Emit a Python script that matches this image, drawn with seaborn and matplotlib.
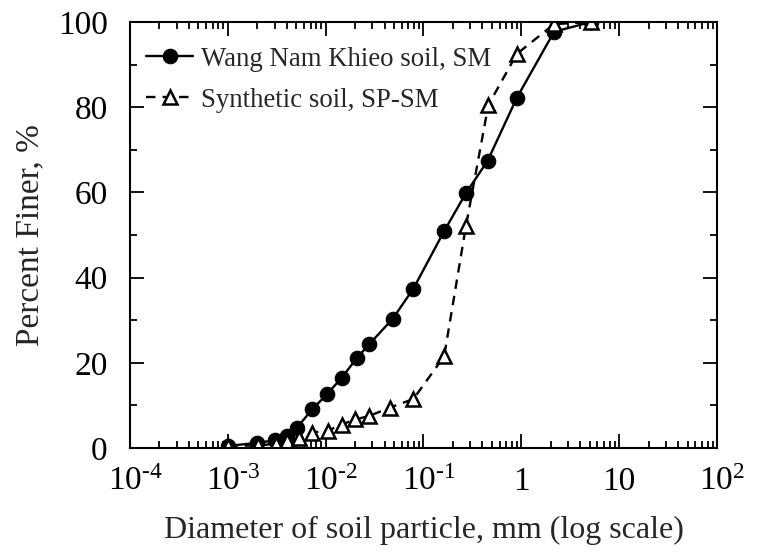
import matplotlib
matplotlib.use("Agg")
import matplotlib.pyplot as plt
import matplotlib.transforms as mtransforms
import seaborn as sns
import pandas as pd
import numpy as np
from matplotlib.ticker import LogLocator, MultipleLocator, NullFormatter

# Data
sm_diam = [0.00101, 0.0020, 0.0030, 0.0040, 0.0051, 0.0073, 0.0103, 0.0146, 0.0208,
           0.028, 0.0483, 0.0788, 0.1625, 0.271, 0.452, 0.899, 2.16, 5.14]
sm_finer = [0.5, 1.2, 1.8, 2.8, 4.8, 9.1, 12.6, 16.5, 21.1,
            24.4, 30.3, 37.4, 50.9, 59.8, 67.4, 82.2, 97.7, 100.0]

spsm_diam = [0.00101, 0.00205, 0.00311, 0.0040, 0.0054, 0.0072, 0.0106, 0.0146, 0.0199,
             0.0278, 0.0455, 0.0788, 0.1625, 0.272, 0.46, 0.899, 2.16, 5.14]
spsm_finer = [0.5, 0.6, 1.0, 1.6, 2.3, 3.6, 4.1, 5.5, 6.7,
              7.5, 9.5, 11.5, 21.5, 52.2, 80.5, 92.5, 99.5, 100.0]

series_names = ["Wang Nam Khieo soil, SM", "Synthetic soil, SP-SM"]
xtick_vals = [1e-4, 1e-3, 1e-2, 1e-1, 1, 10, 100]
xtick_labels = [r"$10^{\text{-}4}$", r"$10^{\text{-}3}$", r"$10^{\text{-}2}$",
                r"$10^{\text{-}1}$", "1", "10", r"$10^{2}$"]
ytick_vals = [0, 20, 40, 60, 80, 100]

sns.set_theme(style="ticks")
plt.rcParams["font.family"] = ["Liberation Serif", "DejaVu Serif"]
plt.rcParams["mathtext.fontset"] = "custom"
plt.rcParams["mathtext.rm"] = "Liberation Serif"
plt.rcParams["mathtext.it"] = "Liberation Serif:italic"
plt.rcParams["mathtext.bf"] = "Liberation Serif:bold"

df_sm = pd.DataFrame({"d": sm_diam, "p": sm_finer})
df_sp = pd.DataFrame({"d": spsm_diam, "p": spsm_finer})

fig = plt.figure(figsize=(7.57, 5.54), dpi=100)
ax = fig.add_axes([130 / 757, 1 - 448 / 554, (717 - 130) / 757, (448 - 22) / 554])

sns.lineplot(data=df_sm, x="d", y="p", ax=ax, color="black", linewidth=1.7,
             marker="o", markersize=10.5, markerfacecolor="black", markeredgecolor="black",
             label=series_names[0], sort=False, estimator=None)
sns.lineplot(data=df_sp, x="d", y="p", ax=ax, color="black", linewidth=1.7,
             linestyle=(0, (4, 3)),
             marker="^", markersize=10.5, markerfacecolor="white", markeredgecolor="black",
             markeredgewidth=1.8, label=series_names[1], sort=False, estimator=None)

ax.set_xscale("log")
ax.set_xlim(1e-4, 1e2)
ax.set_ylim(0, 100)
ax.set_xticks(xtick_vals, xtick_labels)
ax.xaxis.set_minor_locator(LogLocator(base=10, subs=np.arange(2, 10), numticks=100))
ax.xaxis.set_minor_formatter(NullFormatter())
ax.set_yticks(ytick_vals)
ax.yaxis.set_minor_locator(MultipleLocator(10))

for s in ax.spines.values():
    s.set_visible(True)
    s.set_linewidth(1.5)
    s.set_color("black")

ax.tick_params(which="both", direction="in", top=True, right=True, colors="black",
               labelsize=24, width=1.3)
ax.tick_params(which="major", length=10)
ax.tick_params(which="minor", length=5)
ax.tick_params(axis="x", which="major", pad=13)
ax.tick_params(axis="y", which="major", pad=16)

# shift superscripted labels so the base "10" sits closer to the tick
for lab in ax.get_xticklabels():
    if "^" in lab.get_text():
        off = mtransforms.ScaledTranslation(5 / 100, 0, fig.dpi_scale_trans)
        lab.set_transform(lab.get_transform() + off)

ax.set_xlabel("Diameter of soil particle, mm (log scale)", fontsize=23, labelpad=14)
ax.set_ylabel("Percent Finer, %", fontsize=24, labelpad=9)

leg = ax.legend(loc="upper left", frameon=False, fontsize=19.3, handlelength=1.75,
                handletextpad=0.3, borderaxespad=0.2, labelspacing=0.6,
                bbox_to_anchor=(0.0, 0.98))

fig.savefig("out.png", dpi=100)
